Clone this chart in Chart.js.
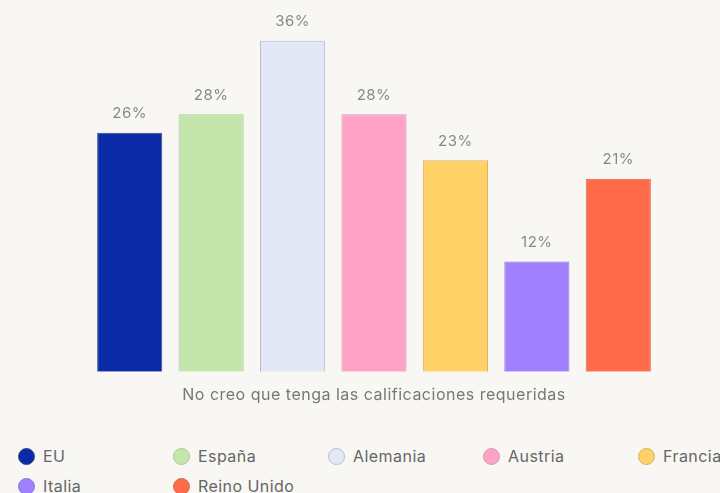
<!DOCTYPE html>
<html>
<head>
<meta charset="utf-8">
<script src="https://cdn.jsdelivr.net/npm/chart.js@4.4.0/dist/chart.umd.min.js"></script>
<style>
  html, body { margin: 0; padding: 0; background: #f8f7f4; overflow: hidden; }
  #wrap { position: relative; width: 720px; height: 493px; }
  #chartBox { position: absolute; left: 0; top: 0; width: 720px; height: 435px; }
  #legend { position: absolute; left: 18px; top: 446px; width: 820px; display: flex; flex-wrap: wrap;
            font-family: Inter, "Noto Sans", sans-serif; font-size: 16px; letter-spacing: 0.45px; color: #666; }
  .item { width: 155px; height: 30px; display: flex; align-items: flex-start; line-height: 20px; }
  .dot { width: 17px; height: 17px; border-radius: 50%; margin-right: 8px; margin-top: 2px; box-sizing: border-box; }
</style>
</head>
<body>
<div id="wrap">
  <div id="chartBox"><canvas id="chart"></canvas></div>
  <div id="legend"></div>
</div>
<script>
var category = ['No creo que tenga las calificaciones requeridas'];
var countries = ['EU', 'España', 'Alemania', 'Austria', 'Francia', 'Italia', 'Reino Unido'];
var values = [26, 28, 36, 28, 23, 12, 21];
var fills = ['#0a2aa8', '#c4e6ad', '#e2e8f6', '#ffa3c6', '#ffd166', '#a080ff', '#ff6a4a'];
var borders = ['#3a4a8a', '#a9c99a', '#b9bcc6', '#d998b0', '#d8b463', '#8c78d0', '#d86a52'];

// a bit of letter spacing for all canvas text
var spacing = {
    id: 'spacing',
    beforeDraw: function (chart) {
        chart.ctx.letterSpacing = '0.5px';
    }
};

// value labels above each bar
var barLabels = {
    id: 'barLabels',
    afterDatasetsDraw: function (chart) {
        var ctx = chart.ctx;
        ctx.save();
        ctx.font = '15px Inter, "Noto Sans", sans-serif';
        ctx.fillStyle = '#888';
        ctx.textAlign = 'center';
        ctx.textBaseline = 'middle';
        chart.data.datasets.forEach(function (ds, i) {
            var bar = chart.getDatasetMeta(i).data[0];
            ctx.fillText(ds.data[0] + '%', bar.x, bar.y - 19);
        });
        ctx.restore();
    }
};

var ctx = document.getElementById('chart').getContext('2d');
var chart = new Chart(ctx, {
    type: 'bar',
    data: {
        labels: category,
        datasets: countries.map(function (name, i) {
            return {
                label: name,
                data: [values[i]],
                backgroundColor: fills[i],
                borderColor: borders[i],
                borderWidth: 1,
                barPercentage: 0.8,
                categoryPercentage: 1
            };
        })
    },
    options: {
        responsive: true,
        maintainAspectRatio: false,
        animation: false,
        layout: { padding: { left: 89, right: 61, top: 4, bottom: 16 } },
        plugins: {
            legend: { display: false },
            tooltip: { enabled: false }
        },
        scales: {
            x: {
                grid: { display: false, drawTicks: false },
                border: { display: false },
                ticks: {
                    color: '#777',
                    padding: 14,
                    font: { family: 'Inter, "Noto Sans", sans-serif', size: 16 }
                }
            },
            y: {
                display: false,
                min: 0,
                max: 40
            }
        }
    },
    plugins: [spacing, barLabels]
});

// html legend built from the datasets
var legend = document.getElementById('legend');
chart.data.datasets.forEach(function (ds) {
    var item = document.createElement('div');
    item.className = 'item';
    var dot = document.createElement('span');
    dot.className = 'dot';
    dot.style.background = ds.backgroundColor;
    dot.style.border = '1px solid ' + ds.borderColor;
    var txt = document.createElement('span');
    txt.textContent = ds.label;
    item.appendChild(dot);
    item.appendChild(txt);
    legend.appendChild(item);
});
</script>
</body>
</html>
